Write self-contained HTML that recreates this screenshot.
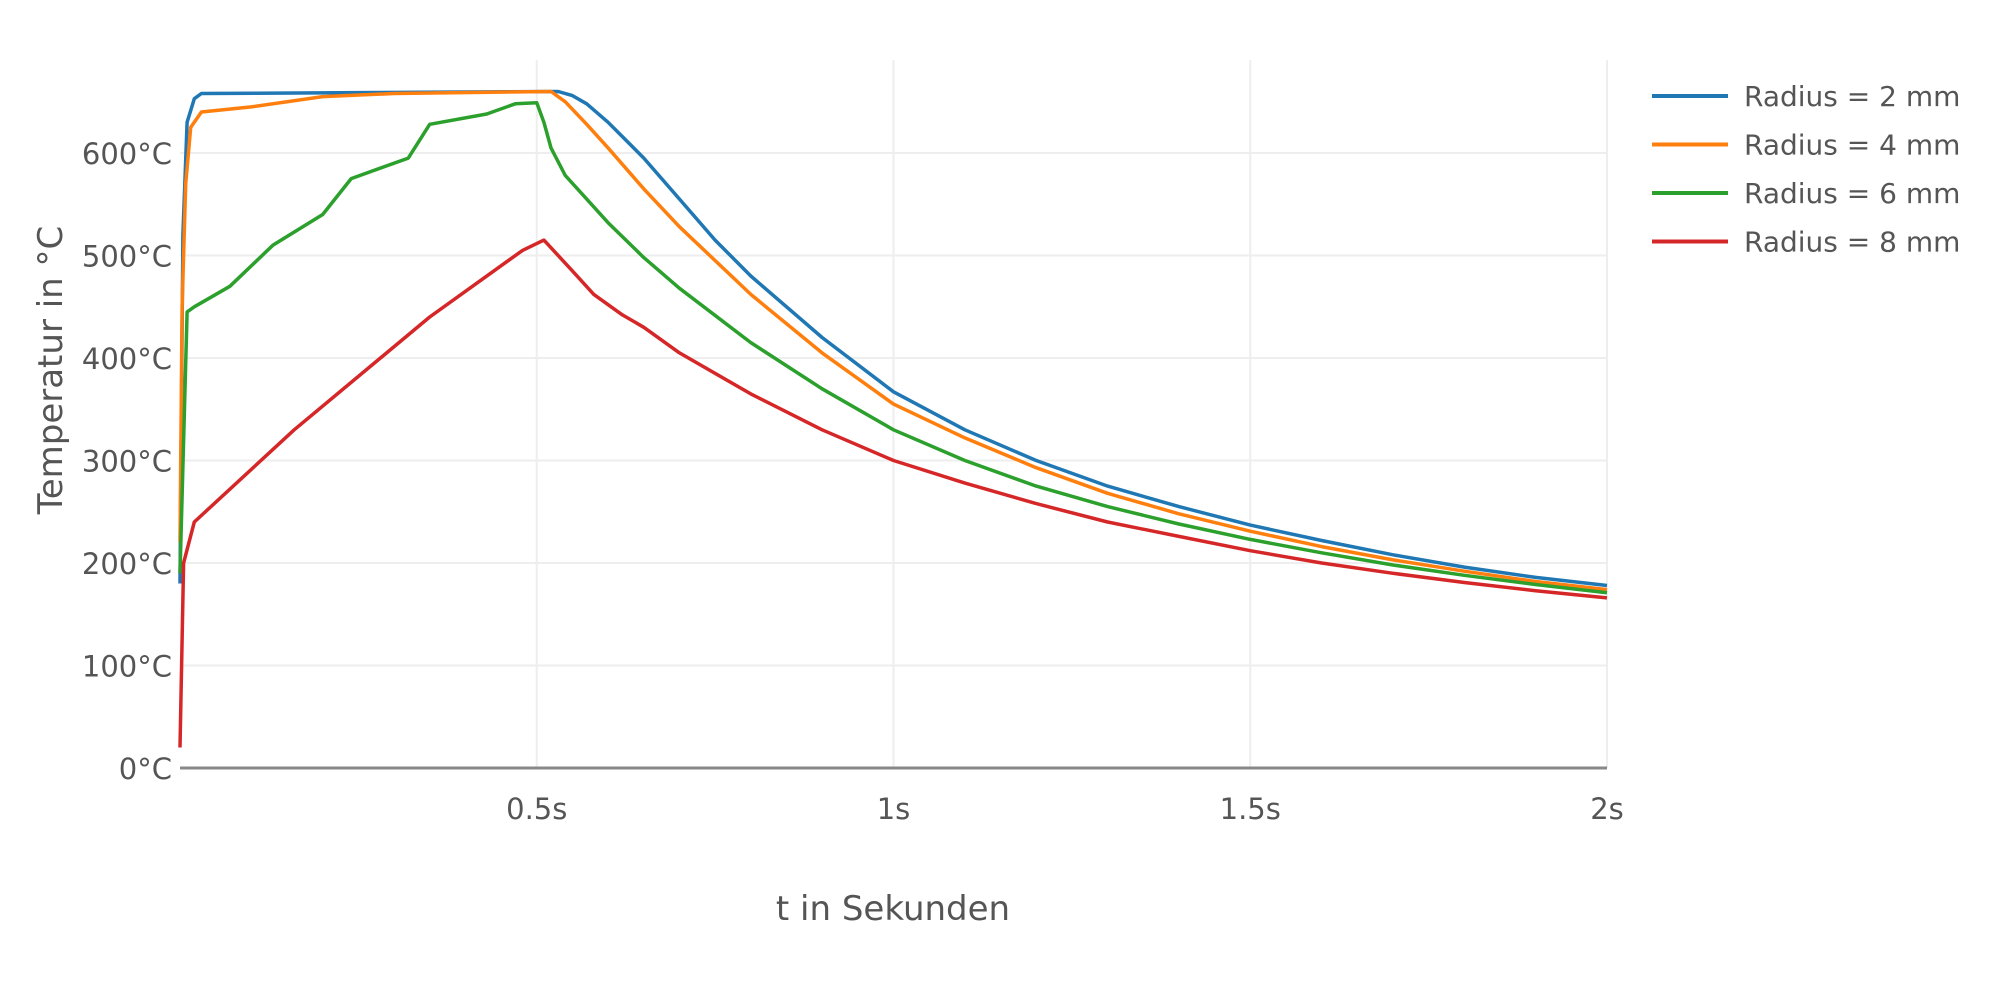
<!DOCTYPE html>
<html><head><meta charset="utf-8"><style>
body{margin:0;background:#fff;}
svg{display:block;font-family:"DejaVu Sans","Liberation Sans",sans-serif;}
</style></head><body>
<svg id="chart" width="2000" height="1000"></svg>
<script>
const xTicks=[0.5,1,1.5,2];
const xTickLabels=["0.5s","1s","1.5s","2s"];
const yTicks=[0,100,200,300,400,500,600];
const yTickLabels=["0°C","100°C","200°C","300°C","400°C","500°C","600°C"];
const seriesNames=["Radius = 2 mm","Radius = 4 mm","Radius = 6 mm","Radius = 8 mm"];
const seriesColors=["#1f77b4","#ff7f0e","#2ca02c","#d62728"];
const t2=[0,0.004,0.01,0.02,0.03,0.53,0.55,0.57,0.6,0.65,0.7,0.75,0.8,0.9,1.0,1.1,1.2,1.3,1.4,1.5,1.6,1.7,1.8,1.9,2.0];
const v2=[180,520,630,653,658,660,656,648,630,595,555,515,480,420,367,330,300,275,255,237,222,208,196,186,178];
const t4=[0,0.003,0.008,0.015,0.03,0.1,0.2,0.3,0.52,0.54,0.57,0.6,0.65,0.7,0.8,0.9,1.0,1.1,1.2,1.3,1.4,1.5,1.6,1.7,1.8,1.9,2.0];
const v4=[220,450,570,625,640,645,655,658,660,650,628,605,565,528,462,405,355,322,293,268,248,231,216,203,192,182,174];
const t6=[0,0.01,0.02,0.07,0.13,0.2,0.24,0.32,0.35,0.43,0.47,0.5,0.51,0.52,0.54,0.57,0.6,0.65,0.7,0.8,0.9,1.0,1.1,1.2,1.3,1.4,1.5,1.6,1.7,1.8,1.9,2.0];
const v6=[190,445,450,470,510,540,575,595,628,638,648,649,630,605,578,555,532,498,468,415,370,330,300,275,255,238,223,210,198,188,179,171];
const t8=[0,0.005,0.02,0.16,0.35,0.48,0.51,0.55,0.58,0.62,0.65,0.7,0.8,0.9,1.0,1.1,1.2,1.3,1.4,1.5,1.6,1.7,1.8,1.9,2.0];
const v8=[20,200,240,330,440,505,515,485,462,442,430,405,365,330,300,278,258,240,226,212,200,190,181,173,166];
const seriesT=[t2,t4,t6,t8];
const seriesV=[v2,v4,v6,v8];

const NS="http://www.w3.org/2000/svg";
const svg=document.getElementById('chart');
const X0=180,X1=1607,Y0=768,Y600=153;
function xs(t){return X0+(X1-X0)*t/2;}
function ys(v){return Y0-(Y0-Y600)*v/600;}
function mk(tag,attrs,parent){const e=document.createElementNS(NS,tag);for(const k in attrs)e.setAttribute(k,attrs[k]);(parent||svg).appendChild(e);return e;}

yTicks.forEach((v,i)=>{
  if(v>0){const g=mk('line',{x1:X0,x2:X1,y1:ys(v),y2:ys(v),stroke:'#eeeeee','stroke-width':2});
  
  }
  const tx=mk('text',{x:X0-8,y:ys(v)+11,'text-anchor':'end','font-size':29,fill:'#555'});
  tx.textContent=yTickLabels[i];
  
  
});
xTicks.forEach((t,i)=>{
  const g=mk('line',{x1:xs(t),x2:xs(t),y1:60,y2:Y0,stroke:'#eeeeee','stroke-width':2});
  
  
  const tx=mk('text',{x:xs(t),y:Y0+51,'text-anchor':'middle','font-size':29,fill:'#555'});
  tx.textContent=xTickLabels[i];
  
  
});
const zl=mk('line',{x1:X0,x2:X1,y1:Y0,y2:Y0,stroke:'#888','stroke-width':3});



seriesT.forEach((ts,s)=>{
  const pts=ts.map((t,i)=>xs(t).toFixed(1)+','+ys(seriesV[s][i]).toFixed(1)).join(' ');
  const p=mk('polyline',{points:pts,fill:'none',stroke:seriesColors[s],'stroke-width':3.5,'stroke-linejoin':'round'});
  
  
  const ly=96+s*48.5;
  const ll=mk('line',{x1:1652,x2:1728,y1:ly,y2:ly,stroke:seriesColors[s],'stroke-width':4});
  
  
  const lt=mk('text',{x:1744,y:ly+10,'font-size':28,fill:'#555'});
  lt.textContent=seriesNames[s];
  
  
});

const yt=mk('text',{x:0,y:0,'text-anchor':'middle','font-size':34,fill:'#555',transform:'translate(62,370) rotate(-90)'});
yt.textContent='Temperatur in °C';


const xt=mk('text',{x:893,y:920,'text-anchor':'middle','font-size':34,fill:'#555'});
xt.textContent='t in Sekunden';


</script>
</body></html>
